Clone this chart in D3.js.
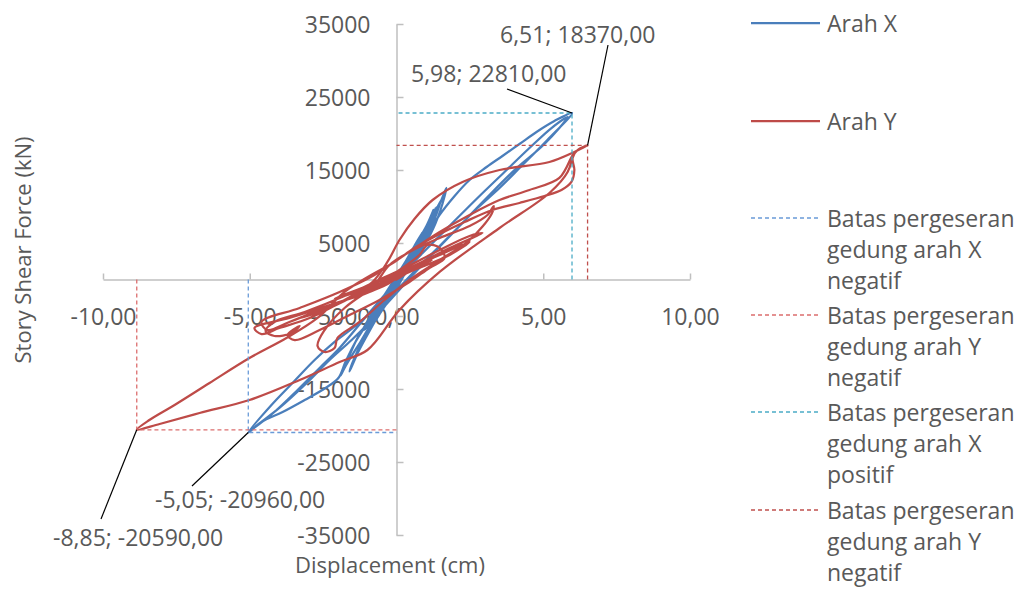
<!DOCTYPE html>
<html>
<head>
<meta charset="utf-8">
<title>Story Shear Force vs Displacement</title>
<style>
body { margin: 0; background: #fff; }
text {
    font-family: "Open Sans", sans-serif;
    font-size: 23px;
    fill: #595959;
}
text.title {
    font-size: 22px;
}
.axis path, .axis line {
    stroke: #bfbfbf;
    stroke-width: 1.5;
    fill: none;
}
.series {
    fill: none;
    stroke-width: 2.25;
    stroke-linejoin: round;
    stroke-linecap: round;
}
.limit {
    fill: none;
    stroke-width: 1.3;
    stroke-dasharray: 4,3;
}
.leader {
    stroke: #000;
    stroke-width: 1.2;
}
</style>
</head>
<body>
<div id="chart"></div>
<script src="https://cdn.jsdelivr.net/npm/d3@7"></script>
<script>
// displacement (cm), story shear (kN)
var arahX = [
    [0,0],[0.27,1710],[0.48,3080],[0.24,1580],[-0.17,-1030],[-0.48,-2670],[-0.61,-3490],[-0.31,-1990],
    [0.14,1030],[0.51,3490],[0.75,5410],[0.89,6510],[0.61,4590],[0.14,1300],[-0.34,-1710],[-0.75,-4180],
    [-0.95,-5550],[-0.65,-3770],[-0.17,-620],[0.34,2670],[0.75,5410],[1.09,7880],[1.26,9520],[1.02,7330],
    [0.55,4040],[0,480],[-0.48,-2530],[-0.89,-5000],[-1.16,-6920],[-1.36,-8290],[-1.06,-6370],[-0.55,-3080],
    [0.03,620],[0.58,4040],[1.09,7600],[1.47,10340],[1.70,12540],[1.50,9520],[1.16,6230],[0.68,3360],
    [0.14,-70],[-0.34,-3080],[-0.82,-5820],[-1.23,-8560],[-1.53,-10480],[-1.77,-12120],[-1.91,-13220],
    [-1.67,-11030],[-1.33,-8010],[-0.89,-5270],[-0.37,-2120],[0.17,1300],[0.72,4590],[1.19,7880],[1.40,9790],
    [1.12,7060],[0.58,3490],[-0.03,-340],[-0.65,-3630],[-1.40,-6370],[-2.11,-8560],[-2.79,-11030],
    [-3.51,-14040],[-4.26,-17190],[-5.05,-20960],[-4.60,-19520],[-3.88,-18150],[-3.13,-16510],[-2.42,-14860],
    [-1.98,-13490],[-1.74,-11300],[-1.40,-8560],[-0.92,-5550],[-0.41,-2810],[0.10,-340],[0.51,2400],
    [0.95,5410],[1.47,8840],[1.98,11440],[2.49,13630],[3.07,15410],[3.61,16920],[4.19,18560],[4.77,20210],
    [5.38,21710],[5.98,22810],[5.14,19110],[4.26,15550],[3.51,12540],[2.76,9790],[2.08,7060],[1.47,4590],
    [0.85,2120],[0.27,-340],[-0.24,-2530],[-0.85,-5550],[-1.53,-8290],[-2.28,-11030],[-3.13,-14450],
    [-3.99,-17600],[-4.74,-19930],[-4.94,-20620],[-4.16,-18150],[-3.37,-15140],[-2.62,-12120],[-1.94,-9380],
    [-1.19,-5820],[-0.44,-2260],[0.27,1030],[1.06,4320],[1.87,7600],[2.76,11170],[3.68,14730],[4.53,18010],
    [5.28,20750],[5.83,22260],[5.04,18560],[4.02,15000],[3.00,10890],[2.15,7330],[1.36,4040],[0.65,1030],
    [0.03,-1710],[-0.58,-4450],[-1.09,-6920],[-0.75,-5000],[-0.17,-1710],[0.44,1580],[0.92,4590],
    [1.30,8300],[1.52,10900],[1.20,8200],[0.70,4100],[0.05,-900],[-0.60,-4900],[-1.15,-8400],[-1.50,-11400],
    [-1.60,-12600],[-1.30,-9900],[-0.80,-6200],[-0.10,-1200],[0.55,3600],[1.05,7500],[1.35,9900],
    [1.00,6900],[0.40,2400],[-0.30,-2600],[-0.95,-7100],[-1.25,-9300],[-0.95,-6800],[-0.40,-2900],
    [0.30,1900],[0.80,5600],[0.65,2940],[0.10,-70]
];
var arahY = [
    [0,0],[0.51,1300],[0.95,2400],[0.44,1580],[-0.24,-480],[-0.92,-1710],[-1.43,-2530],[-0.85,-1440],
    [-0.07,210],[0.78,1990],[1.64,3770],[2.21,4860],[1.47,3490],[0.44,1580],[-0.58,-750],[-1.60,-2530],
    [-2.62,-4180],[-3.30,-5270],[-2.45,-4180],[-1.43,-2260],[-0.41,-340],[0.61,1850],[1.81,4320],
    [2.93,6370],[2.49,5960],[1.47,4040],[0.27,1580],[-0.75,-340],[-1.77,-2260],[-3.13,-4450],[-4.16,-5820],
    [-4.46,-7060],[-4.16,-7740],[-3.58,-7330],[-3.30,-6370],[-3.71,-7600],[-3.47,-8290],[-2.62,-6920],
    [-1.60,-4860],[-0.58,-2810],[0.44,-340],[1.12,1580],[1.64,2940],[1.47,4320],[1.06,4730],[0.78,3360],
    [0.10,1300],[-0.92,-1440],[-1.77,-3900],[-2.45,-6920],[-2.69,-9110],[-2.45,-9930],[-2.11,-9380],
    [-2.01,-8010],[-1.26,-5820],[-0.41,-2810],[0.44,-70],[1.47,2670],[2.49,5410],[3.24,8970],[3.31,10070],
    [3.10,8840],[2.49,7330],[1.47,5690],[0.44,3770],[-0.24,1990],[-0.92,-1440],[-2.28,-3490],[-3.65,-5270],
    [-4.84,-6640],[-4.60,-7470],[-3.99,-6640],[-2.96,-5270],[-1.77,-2810],[-0.82,-340],[-0.31,2400],
    [0.10,5410],[0.61,8290],[1.23,10890],[2.25,13360],[3.51,15000],[5.21,16100],[6.06,17470],[6.51,18370],
    [6.17,17740],[6.00,16640],[6.06,15000],[5.96,13360],[5.62,12260],[5.04,11440],[4.19,10480],[3.27,9520],
    [2.32,7880],[1.47,6230],[0.61,4320],[-0.07,2400],[-0.92,480],[-1.77,-1710],[-2.69,-5270],[-3.75,-8010],
    [-5.01,-10760],[-6.37,-14180],[-7.56,-17190],[-8.42,-19250],[-8.85,-20590],[-8.07,-19790],
    [-6.71,-18290],[-5.01,-16510],[-3.30,-13770],[-1.94,-11300],[-0.99,-9660],[0.10,-4180],[1.47,1030],
    [3.51,7060],[5.21,11850],[5.83,14730],[6.00,17060],[5.55,13910],[4.53,12260],[3.51,10890],[2.49,8840],
    [1.47,6510],[0.27,3360],[-0.75,620],[-1.94,-1710],[-3.30,-3900],[-4.60,-5820],[-4.40,-6920],
    [-3.65,-5820],[-2.28,-3630],[-0.92,-1440],[0.44,1030],[1.81,3360],[2.49,5140],[1.47,3360],[0.10,1030],
    [-0.92,-750],[-2.10,-2600],[-1.20,-1500],[0.20,800],[1.20,2600],[0.60,1700],[-0.41,-70],[0,0]
];

// peak points used for the limit lines and labels
var peakXneg = [-5.05, -20960];
var peakYneg = [-8.85, -20590];
var peakXpos = [5.98, 22810];
var peakYpos = [6.51, 18370];

var xTicks = [-10, -5, 0, 5, 10];
var yTicks = [-35000, -25000, -15000, -5000, 5000, 15000, 25000, 35000];

var seriesNames = ["Arah X", "Arah Y"];
var limitNames = [
    ["Batas pergeseran", "gedung arah X", "negatif"],
    ["Batas pergeseran", "gedung arah Y", "negatif"],
    ["Batas pergeseran", "gedung arah X", "positif"],
    ["Batas pergeseran", "gedung arah Y", "negatif"]
];

(function() {
    var width = 1021, height = 590;
    var colors = { x: "#4a7ebb", y: "#be4b48" };
    var limitColors = ["#6a9bd8", "#dc6e6e", "#4bacc6", "#c0504d"];

    var xscale = d3.scaleLinear().domain([-10, 10]).range([103, 690]);
    var yscale = d3.scaleLinear().domain([-35000, 35000]).range([535, 24]);

    var svg = d3.select("#chart").append("svg")
        .attr("width", width)
        .attr("height", height);

    // axes cross at the origin
    var xaxis = d3.axisBottom(xscale)
        .tickValues(xTicks)
        .tickSizeInner(-6)
        .tickSizeOuter(0)
        .tickFormat(function(d) { return d.toFixed(2).replace(".", ","); });
    var gx = svg.append("g")
        .attr("class", "axis")
        .attr("transform", "translate(0," + yscale(0) + ")")
        .call(xaxis);
    gx.selectAll("text")
        .attr("y", 45)
        .attr("dy", null);

    var yaxis = d3.axisLeft(yscale)
        .tickValues(yTicks)
        .tickSizeInner(-7)
        .tickSizeOuter(0)
        .tickFormat(function(d) { return String(d); });
    var gy = svg.append("g")
        .attr("class", "axis")
        .attr("transform", "translate(" + xscale(0) + ",0)")
        .call(yaxis);
    gy.selectAll("text")
        .attr("x", -26)
        .attr("dy", 8);
    svg.selectAll(".axis").attr("font-size", null).attr("font-family", null);
    svg.selectAll(".axis text").attr("fill", null);

    // series
    var line = d3.line()
        .x(function(d) { return xscale(d[0]); })
        .y(function(d) { return yscale(d[1]); })
        .curve(d3.curveCatmullRom.alpha(0.5));

    svg.append("path").datum(arahX)
        .attr("class", "series")
        .attr("stroke", colors.x)
        .attr("d", line);
    svg.append("path").datum(arahY)
        .attr("class", "series")
        .attr("stroke", colors.y)
        .attr("d", line);

    // limit lines: from the x axis to the peak, then across to the y axis
    var straight = d3.line()
        .x(function(d) { return xscale(d[0]); })
        .y(function(d) { return yscale(d[1]); });
    [peakXneg, peakYneg, peakXpos, peakYpos].forEach(function(p, i) {
        svg.append("path")
            .datum([[p[0], 0], p, [0, p[1]]])
            .attr("class", "limit")
            .attr("stroke", limitColors[i])
            .attr("d", straight);
    });

    // data labels with leader lines
    var labels = [
        { p: peakYpos, tx: 500, ty: 43, lx: 608, ly: 45 },
        { p: peakXpos, tx: 411, ty: 82, lx: 507, ly: 89 },
        { p: peakXneg, tx: 155, ty: 508, lx: 192, ly: 486 },
        { p: peakYneg, tx: 53, ty: 546, lx: 101, ly: 519 }
    ];
    function fmt(v) { return v.toFixed(2).replace(".", ","); }
    labels.forEach(function(l) {
        svg.append("line")
            .attr("class", "leader")
            .attr("x1", xscale(l.p[0]))
            .attr("y1", yscale(l.p[1]))
            .attr("x2", l.lx)
            .attr("y2", l.ly);
        svg.append("text")
            .attr("x", l.tx)
            .attr("y", l.ty)
            .text(fmt(l.p[0]) + "; " + fmt(l.p[1]));
    });

    // axis titles
    svg.append("text")
        .attr("class", "title")
        .attr("x", 390)
        .attr("y", 573)
        .attr("text-anchor", "middle")
        .text("Displacement (cm)");
    svg.append("text")
        .attr("class", "title")
        .attr("transform", "translate(31,250) rotate(-90)")
        .attr("text-anchor", "middle")
        .text("Story Shear Force (kN)");

    // legend
    var legend = svg.append("g").attr("class", "legend");
    var rowY = [23, 121, 218, 315, 412, 510];
    seriesNames.forEach(function(name, i) {
        legend.append("line")
            .attr("x1", 751).attr("x2", 820)
            .attr("y1", rowY[i]).attr("y2", rowY[i])
            .attr("stroke", i === 0 ? colors.x : colors.y)
            .attr("stroke-width", 2.25);
        legend.append("text")
            .attr("x", 827)
            .attr("y", rowY[i] + 9)
            .text(name);
    });
    limitNames.forEach(function(lines, i) {
        var y = rowY[i + 2];
        legend.append("line")
            .attr("class", "limit")
            .attr("x1", 751).attr("x2", 820)
            .attr("y1", y).attr("y2", y)
            .attr("stroke", limitColors[i]);
        lines.forEach(function(t, j) {
            legend.append("text")
                .attr("x", 827)
                .attr("y", y + 9 + j * 31)
                .text(t);
        });
    });
})();
</script>
</body>
</html>
